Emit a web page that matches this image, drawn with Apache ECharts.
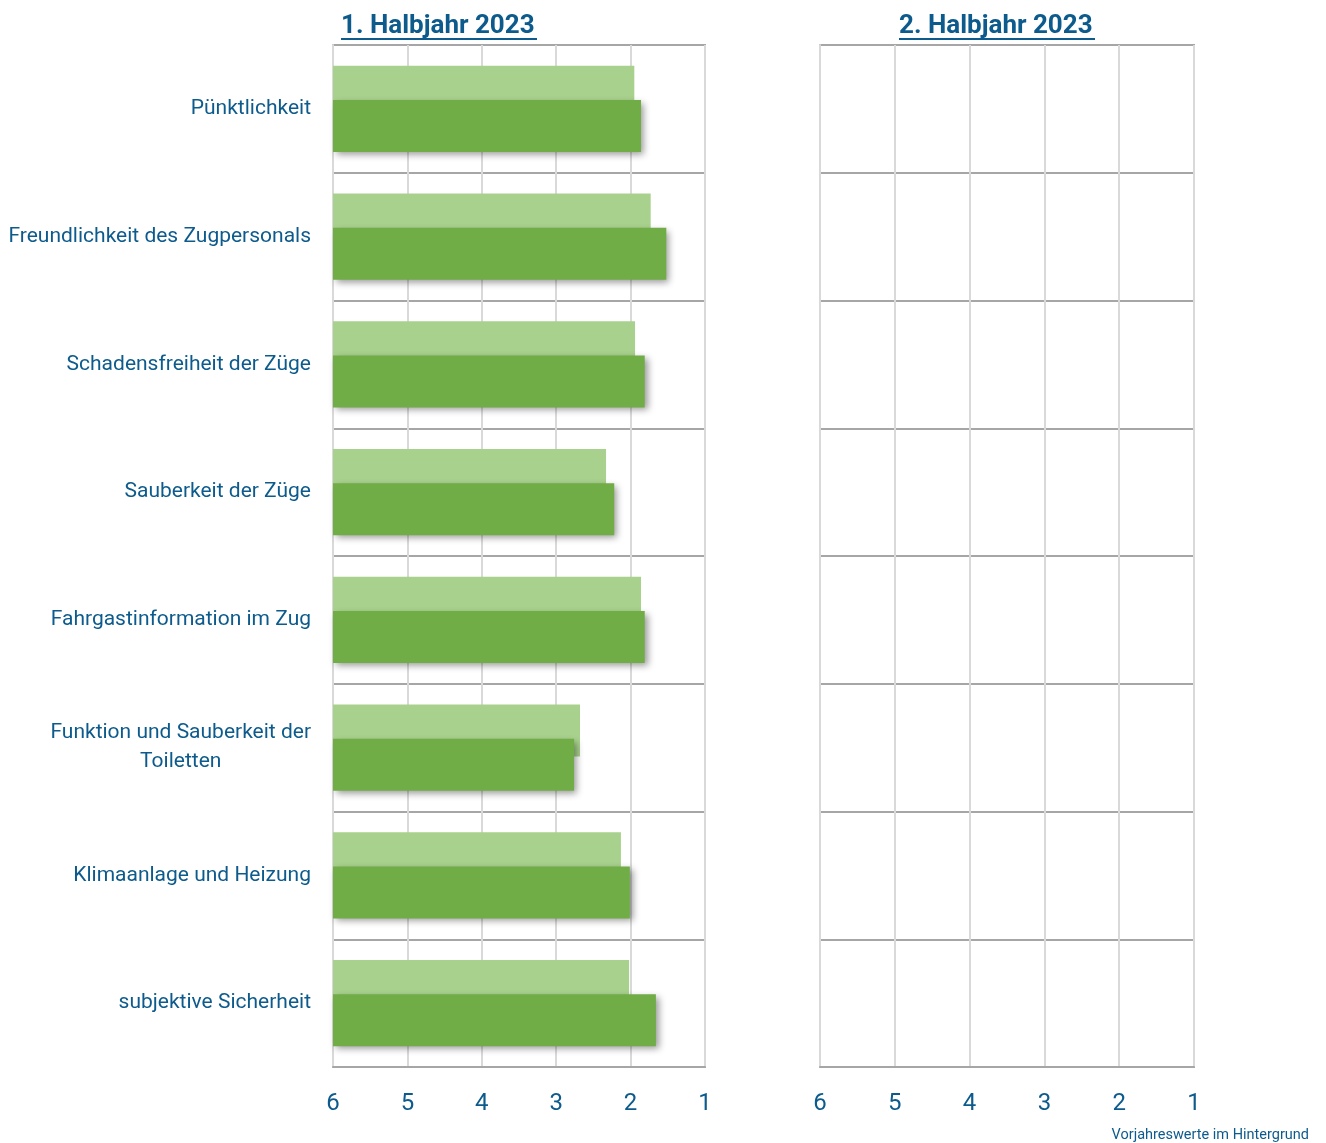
<!DOCTYPE html>
<html>
<head>
<meta charset="utf-8">
<script src="https://cdn.jsdelivr.net/npm/echarts@6/dist/echarts.min.js"></script>
<style>
  html, body { margin: 0; padding: 0; background: #fff; }
  #chart { width: 1326px; height: 1143px; }
</style>
</head>
<body>
<div id="chart"></div>
<script>
const categories = [
    'Pünktlichkeit',
    'Freundlichkeit des Zugpersonals',
    'Schadensfreiheit der Züge',
    'Sauberkeit der Züge',
    'Fahrgastinformation im Zug',
    'Funktion und Sauberkeit der\nToiletten',
    'Klimaanlage und Heizung',
    'subjektive Sicherheit'
];
// Schulnoten (1 = best, 6 = worst)
const prevYear = [1.95, 1.73, 1.94, 2.33, 1.86, 2.68, 2.13, 2.02];
const half1 = [1.86, 1.52, 1.81, 2.22, 1.81, 2.76, 2.01, 1.66];
const gradeTicks = [6, 5, 4, 3, 2, 1];
const panelTitles = ['1. Halbjahr 2023', '2. Halbjahr 2023'];
const footnote = 'Vorjahreswerte im Hintergrund';

const WORST = 6;
const BLUE = '#0d5b8c';
const FONT = 'Roboto, "Open Sans", sans-serif';

const chart = echarts.init(document.getElementById('chart'), null, { renderer: 'canvas' });

// bars grow from grade 6 (left) towards grade 1 (right)
const toAxis = (g) => WORST - g;

const grids = [
    { left: 333, width: 372, top: 45, bottom: 76, show: true, borderColor: '#a6a6a6', borderWidth: 2 },
    { left: 820, width: 374, top: 45, bottom: 76, show: true, borderColor: '#a6a6a6', borderWidth: 2 }
];

const xAxes = grids.map((g, i) => ({
    type: 'value',
    gridIndex: i,
    min: 0,
    max: WORST - gradeTicks[gradeTicks.length - 1],
    interval: 1,
    axisLine: { show: true, lineStyle: { color: '#a6a6a6', width: 2 } },
    axisTick: { show: false },
    splitLine: { show: true, lineStyle: { color: '#d9d9d9', width: 2 } },
    axisLabel: {
        color: BLUE, fontFamily: FONT, fontSize: 24, margin: 25,
        formatter: (v) => String(WORST - v)
    }
}));

const yAxes = grids.map((g, i) => ({
    type: 'category',
    gridIndex: i,
    inverse: true,
    data: categories,
    axisLine: { show: true, lineStyle: { color: '#d9d9d9', width: 2 } },
    axisTick: { show: false },
    splitLine: { show: true, lineStyle: { color: '#a6a6a6', width: 2 } },
    axisLabel: {
        show: i === 0,
        margin: 22,
        formatter: (v) => v.split('\n').map(s => '{c|' + s + '}').join('\n'),
        rich: {
            c: { color: BLUE, fontFamily: FONT, fontSize: 21, lineHeight: 29, align: 'center' }
        }
    }
}));

const series = [
    {
        name: 'Vorjahr',
        type: 'bar',
        xAxisIndex: 0, yAxisIndex: 0,
        data: prevYear.map(toAxis),
        barWidth: 52,
        barGap: '-34.6%',
        itemStyle: { color: '#a9d18e' },
        silent: true
    },
    {
        name: '1. Halbjahr 2023',
        type: 'bar',
        xAxisIndex: 0, yAxisIndex: 0,
        data: half1.map(toAxis),
        barWidth: 52,
        itemStyle: {
            color: '#70ad47',
            shadowColor: 'rgba(0,0,0,0.4)',
            shadowBlur: 7,
            shadowOffsetX: 3,
            shadowOffsetY: 3
        },
        silent: true
    },
    {
        name: '2. Halbjahr 2023',
        type: 'bar',
        xAxisIndex: 1, yAxisIndex: 1,
        data: [],
        silent: true
    }
];

// underlined panel titles
const titleCenters = [439, 997];
const graphic = [];
panelTitles.forEach((t, i) => {
    graphic.push({
        type: 'text',
        left: titleCenters[i] - 98,
        top: 13,
        style: { text: t, fill: BLUE, font: 'bold 26px ' + FONT }
    });
    graphic.push({
        type: 'rect',
        shape: { x: titleCenters[i] - 98, y: 38, width: 196, height: 2 },
        style: { fill: BLUE }
    });
});
graphic.push({
    type: 'text',
    right: 17,
    top: 1128,
    style: { text: footnote, fill: BLUE, font: '14.5px ' + FONT }
});

chart.setOption({
    animation: false,
    backgroundColor: '#fff',
    grid: grids,
    xAxis: xAxes,
    yAxis: yAxes,
    series: series,
    graphic: graphic
});
</script>
</body>
</html>
